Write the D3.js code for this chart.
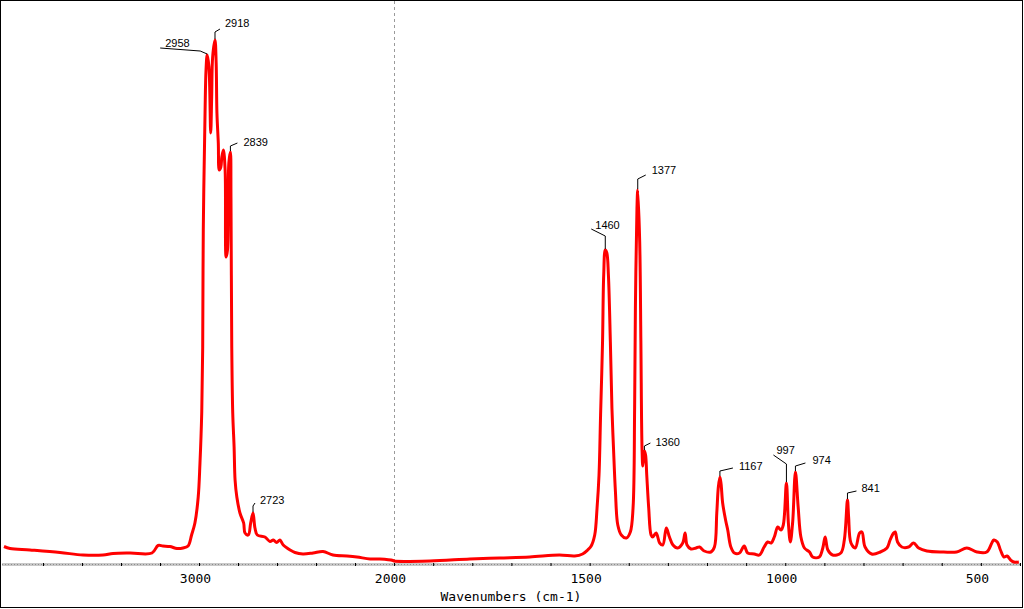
<!DOCTYPE html>
<html>
<head>
<meta charset="utf-8">
<script src="https://cdn.jsdelivr.net/npm/d3@7"></script>
<style>
body { margin: 0; background: #fff; }
</style>
</head>
<body>
<script>
// IR spectrum, wavenumber (cm-1) and absorbance
var wavenumbers = [4000, 3969, 3867, 3713, 3595, 3492, 3441, 3354, 3241, 3210, 3185, 3149, 3113, 3082, 3056,
  3038, 3021, 3004, 2995, 2986, 2981, 2978, 2969, 2964, 2958, 2949, 2940, 2935, 2930, 2918, 2912, 2908,
  2901, 2896, 2888, 2883, 2875, 2866, 2861, 2854, 2847, 2839, 2836, 2832, 2827, 2820, 2815, 2806, 2790,
  2771, 2764, 2747, 2735, 2723, 2713, 2701, 2662, 2636, 2619, 2602, 2585, 2568, 2533, 2508, 2467, 2415,
  2364, 2313, 2241, 2190, 2123, 2072, 2005, 2000, 1908, 1806, 1730, 1653, 1577, 1538, 1518, 1505, 1496,
  1487, 1481, 1476, 1472, 1467, 1464, 1460, 1456, 1452, 1447, 1443, 1439, 1434, 1428, 1419, 1406, 1396,
  1389, 1385, 1383, 1379, 1377, 1372, 1369, 1366, 1364, 1360, 1357, 1354, 1349, 1343, 1339, 1330, 1321, 1313,
  1304, 1296, 1287, 1275, 1262, 1256, 1251, 1241, 1228, 1219, 1207, 1190, 1181, 1175, 1171, 1167, 1164,
  1160, 1152, 1147, 1139, 1130, 1117, 1105, 1096, 1079, 1066, 1054, 1045, 1036, 1028, 1019, 1011, 1005,
  997, 992, 987, 981, 974, 967, 960, 951, 938, 930, 913, 904, 898, 891, 879, 858, 849, 841, 838, 832,
  821, 810, 804, 796, 779, 757, 740, 732, 723, 719, 713, 702, 685, 672, 659, 638, 595, 562, 536, 510,
  485, 472, 467, 458, 450, 441, 433, 424, 416, 403];

var absorbance = [0.035, 0.031, 0.028, 0.023, 0.018, 0.018, 0.021, 0.022, 0.022, 0.037, 0.036, 0.035, 0.031, 0.032, 0.036,
  0.058, 0.082, 0.134, 0.202, 0.302, 0.434, 0.668, 0.902, 0.988, 1.018, 0.994, 0.862, 0.934, 1.014, 1.048, 1.002, 0.902,
  0.842, 0.788, 0.794, 0.814, 0.828, 0.788, 0.614, 0.628, 0.802, 0.824, 0.734, 0.434, 0.302, 0.234, 0.168, 0.134, 0.102,
  0.082, 0.062, 0.058, 0.082, 0.102, 0.072, 0.058, 0.054, 0.045, 0.048, 0.043, 0.048, 0.038, 0.028, 0.023, 0.020, 0.022,
  0.025, 0.018, 0.016, 0.014, 0.010, 0.010, 0.007, 0.006, 0.006, 0.010, 0.012, 0.014, 0.018, 0.016, 0.020, 0.028, 0.036,
  0.058, 0.112, 0.178, 0.298, 0.444, 0.578, 0.628, 0.622, 0.578, 0.444, 0.312, 0.232, 0.144, 0.078, 0.058, 0.052, 0.064,
  0.112, 0.312, 0.512, 0.712, 0.748, 0.644, 0.444, 0.228, 0.196, 0.226, 0.218, 0.178, 0.112, 0.058, 0.054, 0.062, 0.042, 0.038,
  0.072, 0.054, 0.038, 0.032, 0.042, 0.062, 0.038, 0.030, 0.032, 0.034, 0.026, 0.024, 0.034, 0.102, 0.154, 0.174, 0.160,
  0.122, 0.086, 0.068, 0.034, 0.022, 0.022, 0.036, 0.022, 0.020, 0.018, 0.034, 0.044, 0.042, 0.054, 0.074, 0.068, 0.078,
  0.162, 0.082, 0.044, 0.084, 0.184, 0.114, 0.054, 0.032, 0.024, 0.014, 0.014, 0.032, 0.054, 0.028, 0.018, 0.022, 0.048, 0.128, 0.094, 0.042,
  0.032, 0.062, 0.064, 0.034, 0.020, 0.024, 0.032, 0.048, 0.062, 0.064, 0.044, 0.034, 0.034, 0.042, 0.032, 0.026, 0.024, 0.024, 0.032, 0.024,
  0.024, 0.042, 0.048, 0.044, 0.028, 0.014, 0.016, 0.008, 0.004, 0.004];

var peakLabels = [2958, 2918, 2839, 2723, 1460, 1377, 1360, 1167, 997, 974, 841];
var tickLabels = [3000, 2000, 1500, 1000, 500];
var tickMarks = [3800, 3600, 3400, 3200, 3000, 2800, 2600, 2400, 2200, 2000,
  1900, 1800, 1700, 1600, 1500, 1400, 1300, 1200, 1100, 1000, 900, 800, 700, 600, 500, 400];

// leader line bends and text offset for each peak label (pixels from the peak top)
var leaders = {
  2958: {pts: [[0, 0], [-7, -3], [-47, -6]], tx: -42, ty: -7},
  2918: {pts: [[0, 0], [0, -7], [5, -10]], tx: 10, ty: -12},
  2839: {pts: [[0, 0], [0, -5], [7, -8]], tx: 13, ty: -5},
  2723: {pts: [[0, 0], [0, -6], [2, -9]], tx: 7, ty: -8},
  1460: {pts: [[0, 0], [0, -13], [-14, -20]], tx: -10, ty: -20},
  1377: {pts: [[0, 0], [0, -10], [8, -14]], tx: 14, ty: -15},
  1360: {pts: [[0, 0], [0, -4], [6, -7]], tx: 11, ty: -4},
  1167: {pts: [[0, 0], [0, -5], [13, -8]], tx: 19, ty: -6},
  997: {pts: [[0, 0], [0, -18], [-13, -27]], tx: -10, ty: -28},
  974: {pts: [[0, 0], [0, -5], [10, -8]], tx: 17, ty: -7},
  841: {pts: [[0, 0], [0, -6], [9, -8]], tx: 14, ty: -7}
};

var width = 1024, height = 609;

var svg = d3.select("body").append("svg")
    .attr("width", width)
    .attr("height", height);

// frame round the whole picture
svg.append("rect")
    .attr("x", 0.5).attr("y", 0.5)
    .attr("width", 1022).attr("height", 607)
    .attr("fill", "#fff")
    .attr("stroke", "#000");

// x axis is split: 4000-2000 compressed, 2000-400 expanded
var x = d3.scaleLinear()
    .domain([4000, 2000, 400])
    .range([4, 394, 1020]);

var y = d3.scaleLinear()
    .domain([0, 1.12])
    .range([564, 4]);

var axisY = 564;

// dashed line at the scale break
svg.append("line")
    .attr("x1", x(2000) + 0.5).attr("x2", x(2000) + 0.5)
    .attr("y1", 1).attr("y2", axisY)
    .attr("stroke", "#9a9a9a")
    .attr("stroke-dasharray", "3,3");

// grey dotted axis line
svg.append("line")
    .attr("x1", 2).attr("x2", 1021)
    .attr("y1", axisY + 0.5).attr("y2", axisY + 0.5)
    .attr("stroke", "#c8c8c8")
    .attr("stroke-width", 3);
svg.append("line")
    .attr("x1", 2).attr("x2", 1021)
    .attr("y1", axisY + 0.5).attr("y2", axisY + 0.5)
    .attr("stroke", "#8c8c8c")
    .attr("stroke-width", 1)
    .attr("stroke-dasharray", "1,2");

// small tick marks
var ticks = svg.append("g")
    .attr("transform", "translate(0," + (axisY - 1) + ")")
    .call(d3.axisBottom(x).tickValues(tickMarks).tickSize(3).tickFormat(""));
ticks.select(".domain").remove();
ticks.selectAll("line").attr("stroke", "#000");

// tick labels
var labels = svg.append("g")
    .attr("transform", "translate(0," + axisY + ")")
    .call(d3.axisBottom(x).tickValues(tickLabels).tickSize(0).tickFormat(d3.format("d")));
labels.select(".domain").remove();
labels.selectAll("text")
    .attr("y", 19)
    .attr("dy", null)
    .attr("dx", -4)
    .attr("fill", "#000")
    .attr("font-family", "DejaVu Sans Mono")
    .attr("font-size", 13);

svg.append("text")
    .attr("x", 511)
    .attr("y", 601)
    .attr("text-anchor", "middle")
    .attr("font-family", "DejaVu Sans Mono")
    .attr("font-size", 13)
    .text("Wavenumbers (cm-1)");

// the spectrum
var spectrum = wavenumbers.map(function(w, i) { return [w, absorbance[i]]; });

var line = d3.line()
    .x(function(d) { return x(d[0]); })
    .y(function(d) { return y(d[1]); })
    .curve(d3.curveCatmullRom.alpha(0.5));

svg.append("path")
    .datum(spectrum)
    .attr("d", line)
    .attr("fill", "none")
    .attr("stroke", "#ff0000")
    .attr("stroke-width", 3)
    .attr("stroke-linejoin", "round");

// peak labels with leader lines
peakLabels.forEach(function(p) {
  var i = wavenumbers.indexOf(p);
  var px = x(p), py = y(absorbance[i]) - 1;
  var L = leaders[p];
  svg.append("path")
      .attr("d", d3.line()(L.pts.map(function(q) { return [px + q[0], py + q[1]]; })))
      .attr("fill", "none")
      .attr("stroke", "#000")
      .attr("stroke-width", 1);
  svg.append("text")
      .attr("x", px + L.tx)
      .attr("y", py + L.ty)
      .attr("font-family", "Liberation Sans")
      .attr("font-size", 11)
      .attr("fill", "#000")
      .text(p);
});
</script>
</body>
</html>
